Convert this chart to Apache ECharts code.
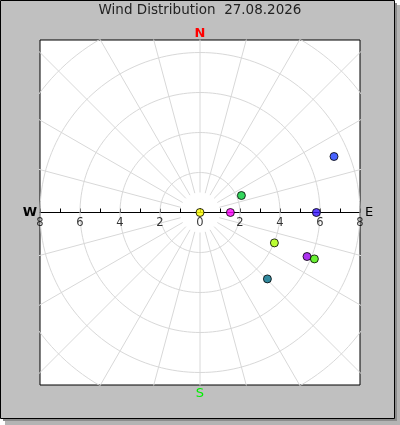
<!DOCTYPE html>
<html>
<head>
<meta charset="utf-8">
<script src="https://cdn.jsdelivr.net/npm/echarts@6/dist/echarts.min.js"></script>
<style>
html,body{margin:0;padding:0;background:#ffffff;}
#chart{width:400px;height:425px;}
</style>
</head>
<body>
<div id="chart"></div>
<script>
const pointEast  = [0.0, 1.52, 2.07, 6.7, 5.82, 3.72, 5.35, 5.72, 3.37];
const pointNorth = [0.0, 0.0, 0.85, 2.8, 0.0, -1.52, -2.2, -2.32, -3.32];
const pointColors = ['#ffff00', '#ff00ff', '#00cc33', '#1a3cff', '#3311ff', '#aaff00', '#9900ee', '#44ee00', '#006e88'];
const ringRadii = [2, 4, 6, 8, 10];
const spokeStepDeg = 15;
const tickValues = [-8, -6, -4, -2, 0, 2, 4, 6, 8];
const tickLabels = ['8', '6', '4', '2', '0', '2', '4', '6', '8'];
const axisMin = -8, axisMax = 8;
const titleText = 'Wind Distribution  27.08.2026';

const chart = echarts.init(document.getElementById('chart'), null, {renderer: 'canvas'});

// polar grid lines (structure, not data)
const gridSeries = [];
ringRadii.forEach(r => {
  const pts = [];
  for (let a = 0; a <= 360; a += 2) {
    const t = a * Math.PI / 180;
    pts.push([r * Math.cos(t), r * Math.sin(t)]);
  }
  gridSeries.push({type: 'line', data: pts, symbol: 'none', silent: true, clip: true,
    lineStyle: {color: '#d8d8d8', width: 1}, z: 1, animation: false});
});
for (let a = 0; a < 360; a += spokeStepDeg) {
  if (a === 0 || a === 180) continue;
  const t = a * Math.PI / 180;
  gridSeries.push({type: 'line', data: [[1 * Math.cos(t), 1 * Math.sin(t)], [13 * Math.cos(t), 13 * Math.sin(t)]],
    symbol: 'none', silent: true, clip: true, lineStyle: {color: '#d8d8d8', width: 1}, z: 1, animation: false});
}

const scatterData = pointEast.map((x, i) => ({value: [x, pointNorth[i]], itemStyle: {color: pointColors[i]}}));
const tickLabelData = tickValues.map((v, i) => ({value: [v, 0], label: {formatter: tickLabels[i]}}));

chart.setOption({
  animation: false,
  graphic: [
    {type: 'rect', z: -101, shape: {x: 5, y: 5, width: 395, height: 420}, style: {fill: '#b4b4b4'}},
    {type: 'rect', z: -100, shape: {x: 3, y: 3, width: 394, height: 418}, style: {fill: '#8c8c8c'}},
    {type: 'rect', z: -99, shape: {x: 0.5, y: 0.5, width: 394, height: 418}, style: {fill: '#c0c0c0', stroke: '#000', lineWidth: 1}},
    {type: 'text', left: 'center', top: 3, style: {text: titleText, font: '13.5px "DejaVu Sans"', fill: '#222'}},
    {type: 'text', x: 200, y: 34, style: {text: 'N', font: 'bold 13px "DejaVu Sans"', fill: '#ff0000', align: 'center', verticalAlign: 'middle'}},
    {type: 'text', x: 200, y: 394, style: {text: 'S', font: '13px "DejaVu Sans"', fill: '#00ee00', align: 'center', verticalAlign: 'middle'}},
    {type: 'text', x: 30, y: 213, style: {text: 'W', font: 'bold 13px "DejaVu Sans"', fill: '#000', align: 'center', verticalAlign: 'middle'}},
    {type: 'text', x: 369, y: 213, style: {text: 'E', font: '13px "DejaVu Sans"', fill: '#000', align: 'center', verticalAlign: 'middle'}}
  ],
  grid: {left: 40, top: 40, width: 320, height: 345, show: true, backgroundColor: '#ffffff', borderColor: '#000', borderWidth: 1, containLabel: false},
  xAxis: {
    type: 'value', min: axisMin, max: axisMax, interval: 1,
    axisLine: {onZero: true, lineStyle: {color: '#000', width: 1}},
    axisTick: {show: true, inside: true, length: 4, lineStyle: {color: '#000'}},
    axisLabel: {show: false},
    splitLine: {show: false}
  },
  yAxis: {
    type: 'value', min: -8.625, max: 8.625,
    axisLine: {show: false}, axisTick: {show: false}, axisLabel: {show: false}, splitLine: {show: false}
  },
  series: gridSeries.concat([{
    type: 'scatter', data: tickLabelData, symbolSize: 1, silent: true, clip: false, z: 4,
    itemStyle: {color: 'rgba(0,0,0,0)'},
    label: {show: true, position: 'bottom', distance: 4, color: '#000', fontFamily: 'DejaVu Sans', fontSize: 11.5}
  }, {
    type: 'scatter', data: scatterData, symbolSize: 8, z: 5,
    itemStyle: {borderColor: '#000', borderWidth: 1}
  }])
});
</script>
</body>
</html>
